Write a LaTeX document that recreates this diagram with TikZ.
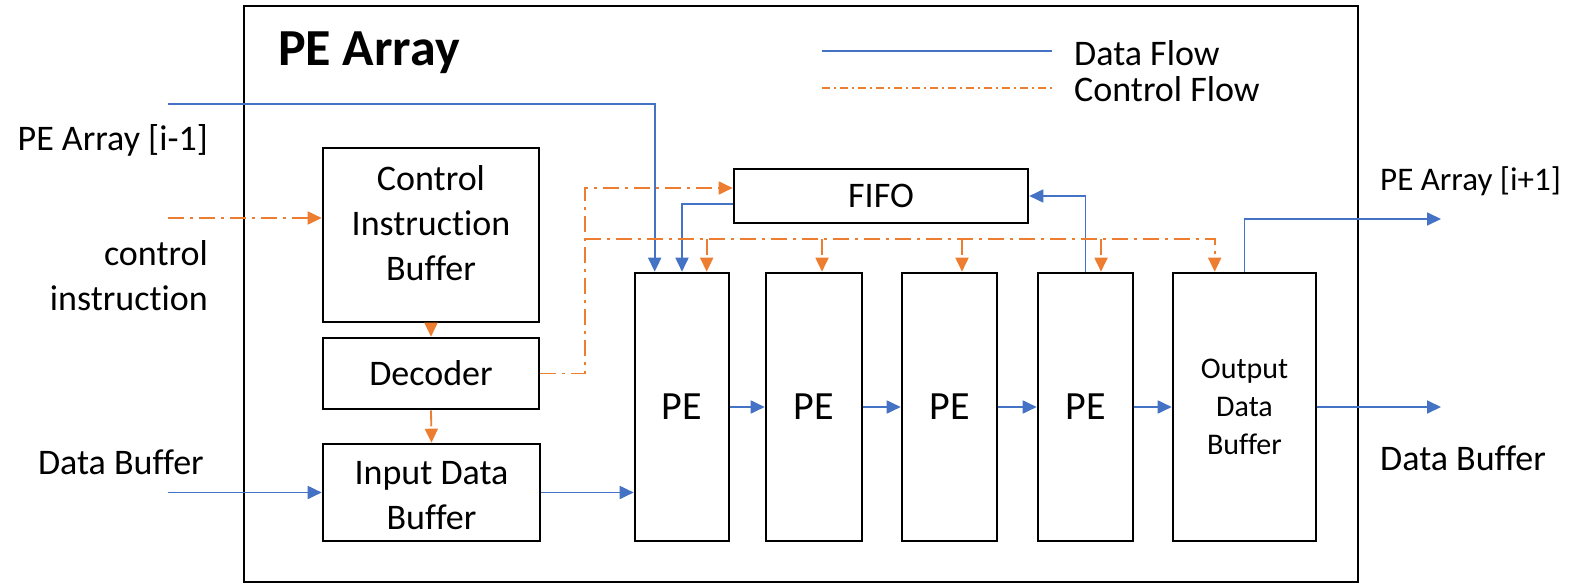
\documentclass[tikz,border=0pt]{standalone}
\usepackage{fontspec}
\setmainfont{Carlito}[Ligatures=NoCommon]
\usetikzlibrary{arrows.meta,calc}
\definecolor{dblue}{HTML}{4472C4}
\definecolor{corange}{HTML}{ED7D31}
\begin{document}
\begin{tikzpicture}[x=1pt,y=-1pt,
  box/.style={draw=black,line width=2.6pt,inner sep=0pt,align=center,font=\fontsize{36}{45}\selectfont},
  pebox/.style={box,minimum width=95pt,minimum height=268pt,font=\fontsize{40}{48}\selectfont},
  data/.style={draw=dblue,line width=1.8pt,-{Triangle[length=14pt,width=13pt]}},
  ctrl/.style={draw=corange,line width=1.8pt,dash pattern=on 16pt off 6pt on 3pt off 6pt,-{Triangle[length=14pt,width=13pt]}},
  lbl/.style={inner sep=0pt,font=\fontsize{36}{45}\selectfont}]
\useasboundingbox (0,0) rectangle (1596,583);
% outer frame
\node[draw=black,line width=2pt,minimum width=1114pt,minimum height=576pt,inner sep=0pt] (arr) at (801,294) {};
\node[lbl,font=\fontsize{52}{62}\selectfont\bfseries,anchor=base west] (title) at (278,66) {PE Array};
% legend
\coordinate (lgd1a) at (822,51);
\coordinate (lgd1b) at (1052,51);
\coordinate (lgd2a) at (822,88);
\coordinate (lgd2b) at (1052,88);
\draw[draw=dblue,line width=1.8pt] (lgd1a) -- (lgd1b);
\draw[draw=corange,line width=1.8pt,dash pattern=on 8pt off 4pt on 2pt off 4pt] (lgd2a) -- (lgd2b);
\node[lbl,anchor=west] (ldata) at (1074,53) {Data Flow};
\node[lbl,anchor=west] (lctrl) at (1074,89) {Control Flow};
% blocks
\node[box,minimum width=216pt,minimum height=174pt] (cib) at (431,235) {};
\node[lbl,align=center] (cibt) at (431,223) {Control\\Instruction\\Buffer};
\node[box,minimum width=216pt,minimum height=71pt] (dec) at (431,373.5) {Decoder};
\node[box,minimum width=217pt,minimum height=97pt] (idb) at (431.5,492.5) {};
\node[lbl,align=center] (idbt) at (431.5,495.5) {Input Data\\Buffer};
\node[box,minimum width=294pt,minimum height=54pt] (fifo) at (881,196) {FIFO};
\node[pebox,minimum width=94pt] (pe1) at (682,407) {PE};
\node[pebox,minimum width=96pt] (pe2) at (814,407) {PE};
\node[pebox] (pe3) at (949.5,407) {PE};
\node[pebox] (pe4) at (1085.5,407) {PE};
\node[box,minimum width=143pt,minimum height=268pt,font=\fontsize{30}{38}\selectfont] (out) at (1244.5,407) {Output\\Data\\Buffer};
% outside labels
\node[lbl,anchor=base east] (lprev) at (208,150) {PE Array [i-1]};
\node[lbl,anchor=east,align=right] (lci) at (208,276) {control\\instruction};
\node[lbl,anchor=base east] (ldbin) at (204,474) {Data Buffer};
\node[lbl,font=\fontsize{33}{40}\selectfont,anchor=base west] (lnext) at (1380,190) {PE Array [i+1]};
\node[lbl,anchor=base west] (ldbout) at (1380,470) {Data Buffer};
% free ends
\coordinate (pin) at (168,104);
\coordinate (cin) at (168,218);
\coordinate (din) at (168,492.5);
\coordinate (pout) at (1441,219);
\coordinate (dout) at (1441,407);
\coordinate (bx) at (585,239);
% data flow
\draw[data] (pin) -| ([xshift=21pt]pe1.north west);
\draw[data] ([yshift=-8pt]fifo.west) -| (pe1.north);
\draw[data] (pe4.north) |- (fifo.east);
\draw[data] (out.north) |- (pout);
\draw[data] (out.east) -- (dout);
\draw[data] (din) -- (idb.west);
\draw[data] (idb.east) -- (idb.east -| pe1.west);
\draw[data] (pe1.east) -- (pe2.west);
\draw[data] (pe2.east) -- (pe3.west);
\draw[data] (pe3.east) -- (pe4.west);
\draw[data] (pe4.east) -- (out.west);
% control flow
\draw[ctrl] (cin) -- (cin -| cib.west);
\draw[ctrl] (cib.south) -- (dec.north);
\draw[ctrl] (dec.south) -- (idb.north);
\draw[ctrl] (dec.east) -| (bx) |- ([yshift=8pt]fifo.west);
\draw[ctrl] (bx) -| ([xshift=43pt]out.north west);
\draw[ctrl] ([xshift=73pt]pe1.north west |- bx) -- ([xshift=73pt]pe1.north west);
\draw[ctrl] ([xshift=8pt]pe2.north |- bx) -- ([xshift=8pt]pe2.north);
\draw[ctrl] ([xshift=12.5pt]pe3.north |- bx) -- ([xshift=12.5pt]pe3.north);
\draw[ctrl] ([xshift=15.5pt]pe4.north |- bx) -- ([xshift=15.5pt]pe4.north);
\end{tikzpicture}
\end{document}
